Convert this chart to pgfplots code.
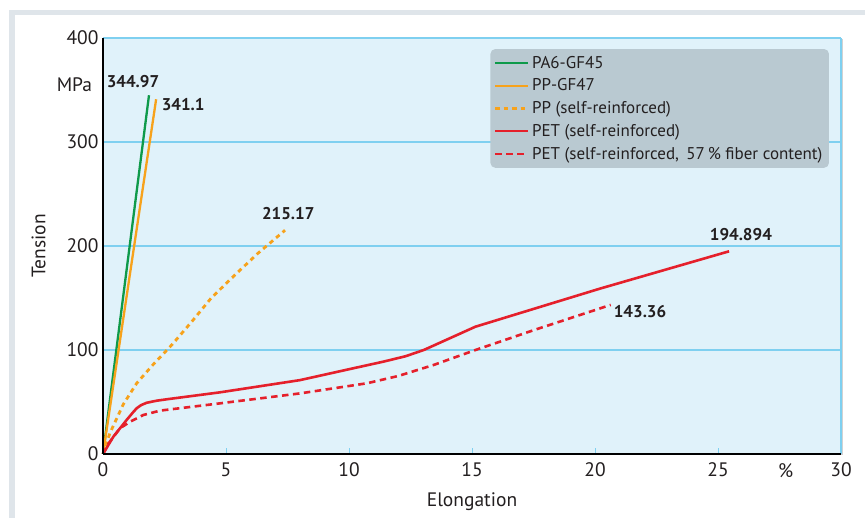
\documentclass[border=0pt]{standalone}
\usepackage{pgfplots}
\pgfplotsset{compat=1.18}
\usepackage{fontspec}
\setmainfont{PT Sans}
\usetikzlibrary{shadows}
\definecolor{bgblue}{HTML}{E0F2FA}
\definecolor{gridblue}{HTML}{7FD0F0}
\definecolor{legendgray}{HTML}{B9C9D1}
\definecolor{framegray}{HTML}{DFE5EA}
\definecolor{txt}{HTML}{231F20}
\definecolor{cgreen}{HTML}{0E9A4A}
\definecolor{corange}{HTML}{F7A21B}
\definecolor{cred}{HTML}{E5202B}
\begin{document}
\begin{tikzpicture}
\path[use as bounding box] (0pt,0pt) rectangle (865pt,518pt);
\fill[white] (0pt,0pt) rectangle (865pt,518pt);
\fill[framegray] (9pt,0pt) rectangle (15pt,508pt);
\fill[framegray] (9pt,503pt) rectangle (865pt,508pt);
\begin{axis}[
  at={(103pt,64pt)}, anchor=south west,
  scale only axis, width=738pt, height=416pt,
  xmin=0, xmax=30, ymin=0, ymax=400,
  axis x line*=bottom, axis y line*=left,
  axis line style={black, line width=2pt},
  axis background/.style={fill=bgblue, drop shadow={shadow xshift=1.5pt, shadow yshift=-1.5pt, opacity=0.35}},
  xtick={0,5,10,15,20,25,30},
  ytick={0,100,200,300,400},
  ymajorgrids, grid style={gridblue, line width=1.5pt},
  tick align=inside, major tick length=6pt,
  major tick style={gridblue, line width=1pt},
  /pgf/number format/assume math mode=true,
  ticklabel style={font=\fontsize{19.5}{21}\selectfont, text=txt},
  yticklabel style={xshift=-1pt},
  xticklabel style={yshift=-5pt},
  xlabel={Elongation}, ylabel={Tension},
  label style={font=\fontsize{19.5}{21}\selectfont, text=txt},
  xlabel style={yshift=-9pt},
  ylabel style={yshift=14pt},
  clip=false,
  legend cell align=left,
  legend style={at={(rel axis cs:0.984,0.974)}, anchor=north east,
    fill=legendgray, draw=none, rounded corners=5pt,
    font=\fontsize{17}{19}\selectfont, text=txt,
    inner xsep=3.5pt, inner ysep=5pt, row sep=5.2pt, column sep=0pt,
    nodes={inner xsep=3pt},
  },
  legend image code/.code={\draw[#1, line width=2.2pt] (0pt,0pt)--(33pt,0pt);},
]
\addplot[cgreen, line width=2.3pt] coordinates {(0,0) (1.87,344.97)};
\addlegendentry{PA6-GF45}
\addplot[corange, line width=2.3pt] coordinates {(0,0) (2.16,341.1)};
\addlegendentry{PP-GF47}
\addplot[corange, line width=2.8pt, dash pattern=on 4.5pt off 4pt] coordinates {
 (0,0) (0.28,20) (0.83,48) (1.37,68) (2,85) (2.8,105) (3.6,127) (4.4,150) (5.4,173) (6.3,193) (7.4,215.17)};
\addlegendentry{PP (self-reinforced)}
\addplot[cred, line width=2.6pt, line join=round] coordinates {
 (0,0) (0.42,16.6) (0.96,32.7) (1.2,39.5) (1.37,44) (1.55,47) (1.78,49.3) (2.2,51.3) (2.59,52.6)
 (4.76,59.3) (8,71) (10,81.5) (11.4,88.8) (12.3,94) (13.04,100) (15.14,122.4)
 (20.2,159) (25.45,194.894)};
\addlegendentry{PET (self-reinforced)}
\addplot[cred, line width=2.6pt, dash pattern=on 6.5pt off 4.5pt] coordinates {
 (0,0) (0.22,10) (0.69,24.7) (1.1,31) (1.64,37.5) (2.32,41.7)
 (4.76,48.7) (8.02,58.3) (10.73,68) (12,75) (13.44,85.6) (15.14,100) (17.5,119) (20.64,143.36)};
\addlegendentry{PET (self-reinforced,\, 57\,\% fiber content)}
\draw[gridblue, line width=1.5pt] (rel axis cs:1,0) -- (rel axis cs:1,1);
\draw[black, line width=2pt] (rel axis cs:0,0) -- (rel axis cs:0,1);
\draw[black, line width=2pt] (rel axis cs:0,0) -- (rel axis cs:1,0);
\begin{scope}[every node/.style={font=\fontsize{17}{19}\selectfont\bfseries, text=txt}]
\node at (axis cs:1.22,357.7) {344.97};
\node at (axis cs:3.26,335.6) {341.1};
\node at (axis cs:7.53,230.8) {215.17};
\node at (axis cs:25.93,210.6) {194.894};
\node at (axis cs:21.83,136.8) {143.36};
\end{scope}
\node[font=\fontsize{19.5}{21}\selectfont, text=txt, anchor=east] at (axis cs:-0.3,355) {MPa};
\node[font=\fontsize{19.5}{21}\selectfont, text=txt] at (axis cs:27.75,-16.5) {\%};
\end{axis}
\end{tikzpicture}
\end{document}
